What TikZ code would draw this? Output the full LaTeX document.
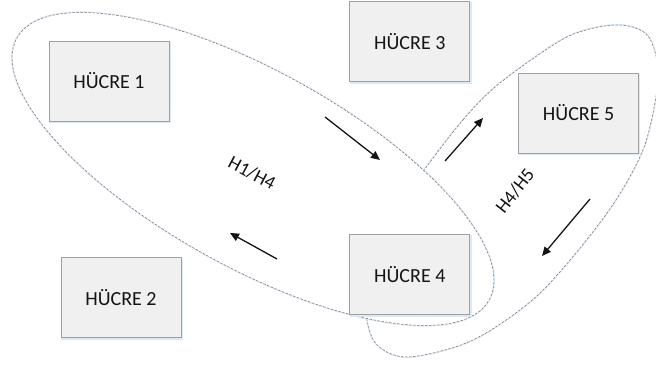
\documentclass[tikz,border=0pt]{standalone}
\usepackage{fontspec}
\setmainfont{Carlito}
\usetikzlibrary{arrows.meta, positioning}
\definecolor{CellFill}{RGB}{240, 240, 240}
\definecolor{CellEdge}{RGB}{160, 160, 160}
\definecolor{RingGrey}{RGB}{115, 115, 115}
\definecolor{GlowBlue}{RGB}{222, 232, 244}
\definecolor{InkBlack}{RGB}{20, 20, 20}

\begin{document}
\begin{tikzpicture}[
        x = 1pt, y = 1pt,
        cell/.style = {draw = CellEdge, fill = CellFill, line width = 0.8pt, minimum width = 120pt, minimum height = 80pt, inner sep = 0pt, font = \fontsize{20}{24}\selectfont, text = InkBlack,
            preaction = {fill = GlowBlue, draw = GlowBlue, line width = 1.5pt, transform canvas = {shift = {(1pt, -1.5pt)}}}},
        cluster/.style = {draw = RingGrey, fill = white, line width = 0.5pt, dash pattern = on 2.5pt off 1.5pt,
            preaction = {draw = GlowBlue, line width = 2.2pt, solid}},
        lab/.style = {font = \fontsize{19}{22}\selectfont, text = InkBlack, inner sep = 1pt},
        arr/.style = {-{Triangle[length = 9pt, width = 8pt]}, line width = 1.3pt, InkBlack}
    ]
        \useasboundingbox (0, 0) rectangle (656, 369);

        \draw[cluster] plot[smooth cycle] coordinates {
            (422, 196) (463, 249) (500, 286) (567, 332) (617, 344) (648, 333)
            (658, 292) (644, 222) (607, 156) (540, 76) (473, 29) (407, 12)
            (374, 28) (366, 75) (388, 145)
        };
        \draw[cluster] (253, 200) ellipse [x radius = 270pt, y radius = 98pt, rotate = -29];

        \node[cell] (h1) at (109, 288) {HÜCRE 1};
        \node[cell, below = 136pt of h1, xshift = 12pt] (h2) {HÜCRE 2};
        \node[cell, right = 180pt of h1, yshift = 39.5pt] (h3) {HÜCRE 3};
        \node[cell, below = 152pt of h3] (h4) {HÜCRE 4};
        \node[cell, right = 48pt of h3, yshift = -71.5pt] (h5) {HÜCRE 5};

        \coordinate (a1s) at (325, 252);
        \coordinate (a1e) at (380, 209);
        \coordinate (a2s) at (277, 110);
        \coordinate (a2e) at (230, 136);
        \coordinate (a3s) at (445, 208);
        \coordinate (a3e) at (483, 251);
        \coordinate (a4s) at (590, 170);
        \coordinate (a4e) at (542, 113);

        \draw[arr] (a1s) -- (a1e);
        \draw[arr] (a2s) -- (a2e);
        \draw[arr] (a3s) -- (a3e);
        \draw[arr] (a4s) -- (a4e);

        \node[lab, rotate = -28] (t14) at (252, 196) {H1/H4};
        \node[lab, rotate = 52] (t45) at (515, 178) {H4/H5};
    \end{tikzpicture}
\end{document}
